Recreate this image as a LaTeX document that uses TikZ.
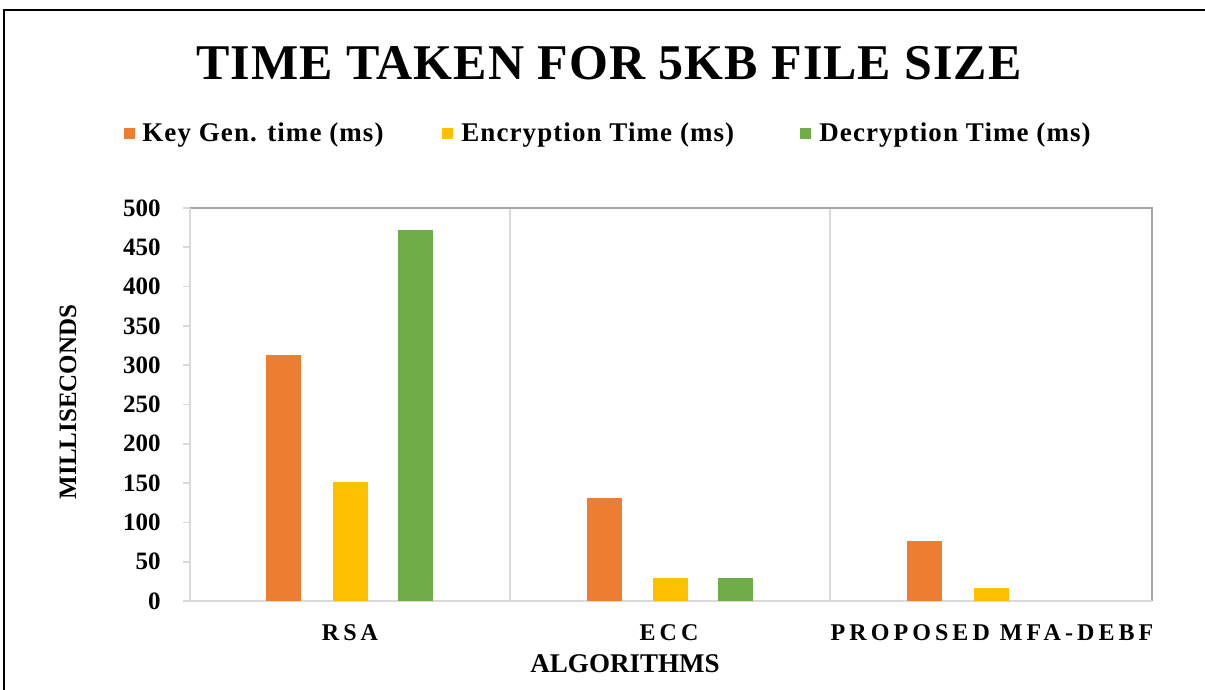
\documentclass[tikz,border=0pt]{standalone}
\usepackage{fontspec}
\setmainfont{Liberation Serif}
\newfontfamily\spacedfont[LetterSpace=17]{Liberation Serif}
\newfontfamily\titlefont[LetterSpace=2]{Liberation Serif}
\newfontfamily\legendfont[LetterSpace=4]{Liberation Serif}
\usepackage{tikz}
\usetikzlibrary{positioning, calc}
\definecolor{keygen}{RGB}{237,125,49}
\definecolor{encrypt}{RGB}{255,192,0}
\definecolor{decrypt}{RGB}{112,173,71}
\definecolor{gridgray}{RGB}{217,217,217}
\definecolor{framegray}{RGB}{166,166,166}
\tikzset{
  ticklabel/.style={anchor=east, inner sep=0pt, font=\fontsize{12.5}{14}\selectfont\bfseries},
  catlabel/.style={anchor=base, inner sep=0pt, font=\spacedfont\fontsize{12}{14}\selectfont\bfseries},
  legendbox/.style={minimum size=5.5pt, inner sep=0pt},
  legendtext/.style={anchor=base west, inner sep=0pt, font=\legendfont\fontsize{13.5}{16}\selectfont\bfseries},
}

\begin{document}
\begin{tikzpicture}[x=0.5pt, y=-0.5pt]
  \useasboundingbox (0,0) rectangle (1205,690);
  \fill[white] (0,0) rectangle (1205,690);
  \draw[line width=1.2pt] (4,690) -- (4,10) -- (1205,10);

  % title and legend
  \node[anchor=base, inner sep=0pt, font=\titlefont\fontsize{25}{30}\selectfont\bfseries] (title) at (609,80) {TIME TAKEN FOR 5KB FILE SIZE};
  \node[legendbox, fill=keygen] (lkey) at (129.5,134) {};
  \node[legendtext] (tkey) at (142,141) {Key Gen. time (ms)};
  \node[legendbox, fill=encrypt] (lenc) at (447.5,134) {};
  \node[legendtext] (tenc) at (461,141) {Encryption Time (ms)};
  \node[legendbox, fill=decrypt] (ldec) at (805,134) {};
  \node[legendtext] (tdec) at (819,141) {Decryption Time (ms)};

  % plot frame
  \draw[gridgray, line width=0.8pt] (510,208) -- (510,601);
  \draw[gridgray, line width=0.8pt] (830,208) -- (830,601);
  \draw[framegray, line width=0.8pt] (190,208) -- (1152,208) -- (1152,601);
  \draw[gridgray, line width=0.8pt] (190,208) -- (190,601) -- (1152,601);

  \begin{scope}[shift={(0,601)}, y=0.393pt]
    \foreach \v in {0,50,...,500} {
      \draw[gridgray, line width=0.8pt] (183,\v) -- (190,\v);
      \node[ticklabel] (y\v) at (161,\v) {\v};
    }
    % bars: centre / value / colour
    \foreach \xc/\val/\col in {283.5/313/keygen, 350/151/encrypt, 415/472/decrypt,
                               604/131/keygen, 670.5/29/encrypt, 735.5/29/decrypt,
                               924.5/76/keygen, 991/16/encrypt}
      \fill[\col] (\xc-17.5,0) rectangle (\xc+17.5,\val);
  \end{scope}

  % axis labels
  \node[catlabel] (crsa) at (350,640) {RSA};
  \node[catlabel] (cecc) at (669,640) {ECC};
  \node[catlabel] (cmfa) at (992,640) {PROPOSED MFA-DEBF};
  \node[anchor=base, inner sep=0pt, font=\fontsize{13.5}{16}\selectfont\bfseries] (xlab) at (625,672) {ALGORITHMS};
  \node[anchor=base, rotate=90, inner sep=0pt, font=\fontsize{12.5}{15}\selectfont\bfseries] (ylab) at (76,402) {MILLISECONDS};
\end{tikzpicture}
\end{document}
